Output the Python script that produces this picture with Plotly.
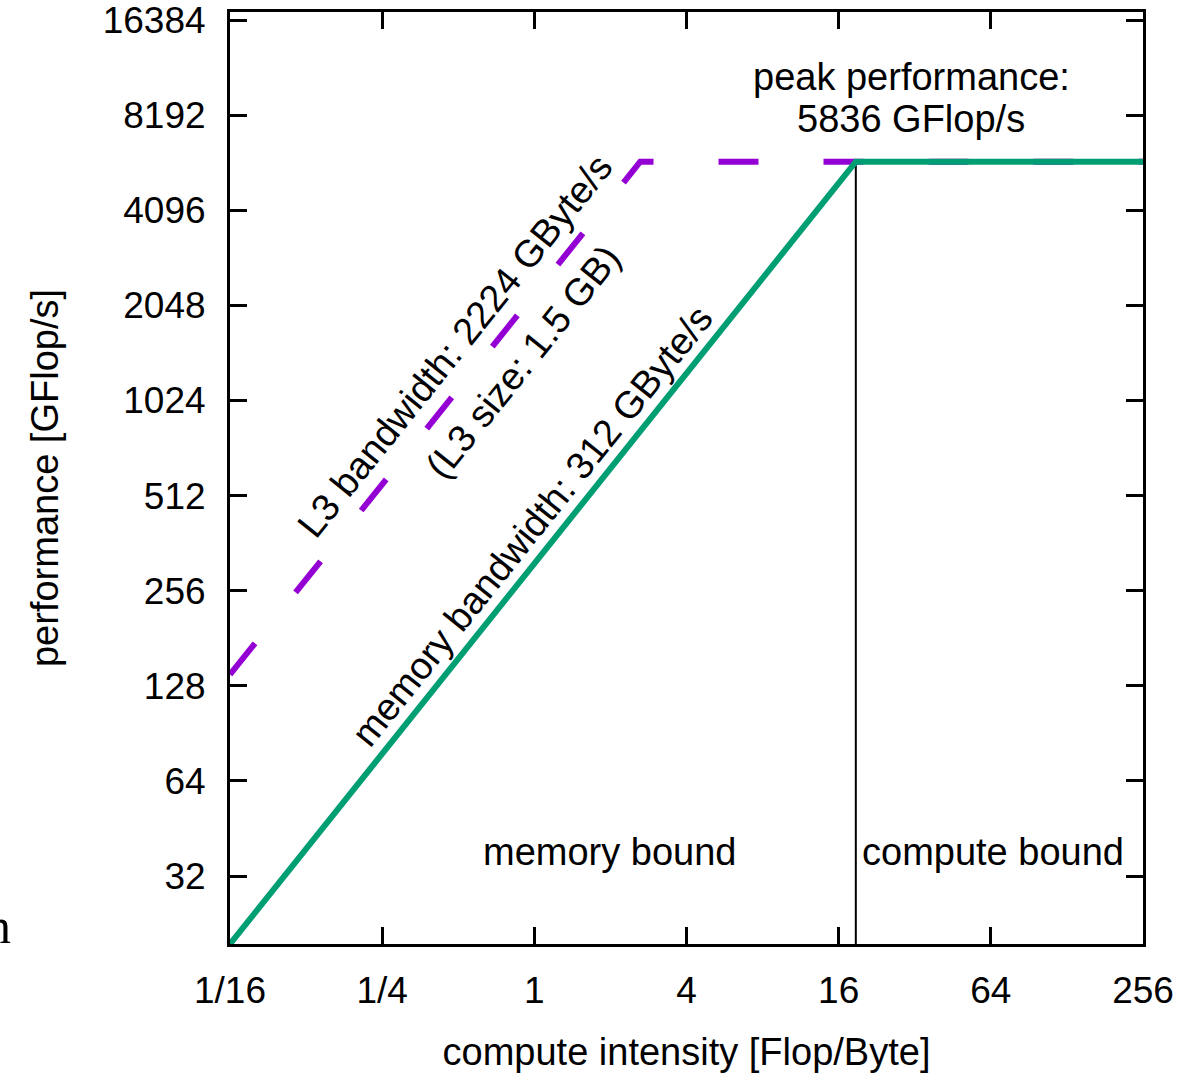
import math
import plotly.graph_objects as go

# ---- data ----
x_ticks = [1/16, 1/4, 1, 4, 16, 64, 256]
x_ticktext = ["1/16", "1/4", "1", "4", "16", "64", "256"]
y_ticks = [32, 64, 128, 256, 512, 1024, 2048, 4096, 8192, 16384]
y_ticktext = [str(v) for v in y_ticks]

# roofline corner points (GFlop/s vs Flop/Byte)
mem_x = [1/16, 18.705, 256]      # memory bandwidth 312 GByte/s, peak 5836
mem_y = [19.5, 5836, 5836]
l3_x = [1/16, 2.624, 256]        # L3 bandwidth 2224 GByte/s
l3_y = [139, 5836, 5836]
ridge_x = [18.705, 18.705]
ridge_y = [19.5, 5836]

FONT = "Liberation Sans, Arial, sans-serif"
FS = 38
TFS = 37

fig = go.Figure()
fig.add_trace(go.Scatter(x=l3_x, y=l3_y, mode="lines",
                         line=dict(color="#9400D3", width=6, dash="40px,65px"),
                         showlegend=False, hoverinfo="skip"))
fig.add_trace(go.Scatter(x=ridge_x, y=ridge_y, mode="lines",
                         line=dict(color="black", width=2),
                         showlegend=False, hoverinfo="skip"))
fig.add_trace(go.Scatter(x=mem_x, y=mem_y, mode="lines",
                         line=dict(color="#009E73", width=6),
                         showlegend=False, hoverinfo="skip"))

ann = []
def A(text, x, y, angle=0, size=FS, xanchor="center", yanchor="middle", family=FONT):
    ann.append(dict(text=text, x=x, y=y, xref="paper", yref="paper", showarrow=False,
                    textangle=angle, xanchor=xanchor, yanchor=yanchor,
                    font=dict(family=family, size=size, color="black")))

A("peak performance:", 0.746, 0.930)
A("5836 GFlop/s", 0.746, 0.885)
A("memory bound", 0.416, 0.0987)
A("compute bound", 0.836, 0.0987)
A("memory bandwidth: 312 GByte/s", 0.331, 0.448, angle=-51.3)
A("L3 bandwidth: 2224 GByte/s", 0.246, 0.642, angle=-51.3)
A("(L3 size: 1.5 GB)", 0.321, 0.624, angle=-51.3)
A("n", -0.2377, 0.019, size=50, xanchor="right", family="Liberation Serif, Times New Roman, serif")

fig.update_layout(
    width=1182, height=1073,
    margin=dict(l=230, r=39, t=12, b=129, autoexpand=False),
    paper_bgcolor="white", plot_bgcolor="white",
    font=dict(family=FONT, size=TFS, color="black"),
    annotations=ann,
    xaxis=dict(type="log", range=[math.log10(1/16), math.log10(256)],
               tickvals=x_ticks, ticktext=x_ticktext,
               ticks="inside", ticklen=17, tickwidth=3, tickcolor="black",
               showline=True, linewidth=3, linecolor="black", mirror="ticks",
               showgrid=False, zeroline=False, ticklabelstandoff=12,
               ticklabeloverflow="allow",
               tickfont=dict(family=FONT, size=TFS),
               title=dict(text="compute intensity [Flop/Byte]", standoff=32,
                          font=dict(family=FONT, size=FS))),
    yaxis=dict(type="log", range=[math.log10(19.5), math.log10(17370)],
               tickvals=y_ticks, ticktext=y_ticktext,
               ticks="inside", ticklen=17, tickwidth=3, tickcolor="black",
               showline=True, linewidth=3, linecolor="black", mirror="ticks",
               showgrid=False, zeroline=False, ticklabelstandoff=14,
               ticklabeloverflow="allow",
               tickfont=dict(family=FONT, size=TFS),
               title=dict(text="performance [GFlop/s]", standoff=33,
                          font=dict(family=FONT, size=FS))),
)

fig.write_html("out.html")
